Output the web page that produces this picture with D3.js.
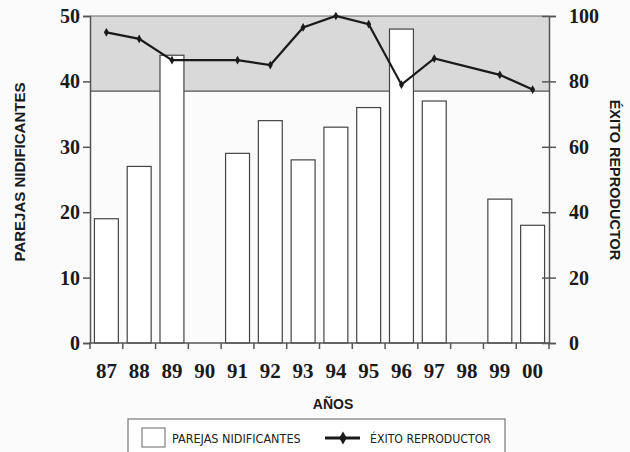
<!DOCTYPE html>
<html>
<head>
<meta charset="utf-8">
<script src="https://cdn.jsdelivr.net/npm/d3@7"></script>
<style>
  body { margin: 0; background: #fbfbfb; }
  svg { display: block; }
</style>
</head>
<body>
<script>
// datos
const anos = ["87", "88", "89", "90", "91", "92", "93", "94", "95", "96", "97", "98", "99", "00"];
const parejas = [19, 27, 44, null, 29, 34, 28, 33, 36, 48, 37, null, 22, 18];
const exito = [95, 93, 86.5, null, 86.5, 85, 96.5, 100, 97.5, 79, 87, null, 82, 77.5];
const ticksIzq = [0, 10, 20, 30, 40, 50];
const ticksDer = [0, 20, 40, 60, 80, 100];
const banda = 77; // limite inferior de la zona gris (escala derecha)

const W = 630, H = 452;
const m = { left: 90, right: 549, top: 16, bottom: 343 };

const svg = d3.select("body").append("svg").attr("width", W).attr("height", H);

const x = d3.scaleBand().domain(anos).range([m.left, m.right]).paddingInner(0.27).paddingOuter(0.135);
const xb = d3.scaleBand().domain(anos).range([m.left, m.right]);
const y = d3.scaleLinear().domain([0, 50]).range([m.bottom, m.top]);
const y2 = d3.scaleLinear().domain([0, 100]).range([m.bottom, m.top]);

// zona gris
svg.append("rect")
  .attr("x", m.left).attr("y", y2(100))
  .attr("width", m.right - m.left).attr("height", y2(banda) - y2(100))
  .attr("fill", "#d9d9d9");
svg.append("line")
  .attr("x1", m.left).attr("x2", m.right)
  .attr("y1", y2(banda)).attr("y2", y2(banda))
  .attr("stroke", "#555").attr("stroke-width", 1.2);
svg.append("line")
  .attr("x1", m.left).attr("x2", m.right)
  .attr("y1", m.top).attr("y2", m.top)
  .attr("stroke", "#666").attr("stroke-width", 1);

// barras
svg.selectAll("rect.barra").data(anos.map((a, i) => ({ a, v: parejas[i] })).filter(d => d.v != null))
  .enter().append("rect").attr("class", "barra")
  .attr("x", d => x(d.a)).attr("width", x.bandwidth())
  .attr("y", d => y(d.v)).attr("height", d => y(0) - y(d.v))
  .attr("fill", "#fff").attr("stroke", "#444").attr("stroke-width", 1.2);

// ejes
const ejeIzq = svg.append("g").attr("transform", `translate(${m.left},0)`)
  .call(d3.axisLeft(y).tickValues(ticksIzq).tickSize(7).tickPadding(3));
const ejeDer = svg.append("g").attr("transform", `translate(${m.right},0)`)
  .call(d3.axisRight(y2).tickValues(ticksDer).tickSize(7).tickPadding(13));
ejeDer.selectAll(".tick line").attr("x1", -7);
const ejeX = svg.append("g").attr("transform", `translate(0,${m.bottom})`)
  .call(d3.axisBottom(xb).tickSize(0).tickPadding(20));
// marcas entre categorias
ejeX.selectAll("line.sep").data(anos.slice(1)).enter().append("line").attr("class", "sep")
  .attr("x1", d => xb(d)).attr("x2", d => xb(d)).attr("y1", 0).attr("y2", 6);

[ejeIzq, ejeDer, ejeX].forEach(g => {
  g.select(".domain").attr("stroke", "#555").attr("stroke-width", 1.5);
  g.selectAll("line").attr("stroke", "#555").attr("stroke-width", 1.5);
  g.selectAll("text").attr("font-family", "Liberation Serif, serif").attr("font-weight", "bold")
    .attr("fill", "#1a1a1a");
});
ejeIzq.selectAll("text").attr("font-size", 20);
ejeDer.selectAll("text").attr("font-size", 20);
ejeX.selectAll("text").attr("font-size", 21);
ejeX.select(".domain").attr("d", `M${m.left},6V0H${m.right}V6`);

// linea de exito
const pts = anos.map((a, i) => ({ a, v: exito[i] })).filter(d => d.v != null);
svg.append("path").datum(pts)
  .attr("fill", "none").attr("stroke", "#1a1a1a").attr("stroke-width", 2.2)
  .attr("d", d3.line().x(d => xb(d.a) + xb.bandwidth() / 2).y(d => y2(d.v)));
svg.selectAll("path.punto").data(pts).enter().append("path").attr("class", "punto")
  .attr("transform", d => `translate(${xb(d.a) + xb.bandwidth() / 2},${y2(d.v)})`)
  .attr("d", d3.symbol(d3.symbolDiamond, 22))
  .attr("fill", "#1a1a1a");

// titulos
const sans = "Liberation Sans, Arial, sans-serif";
svg.append("text").text("PAREJAS NIDIFICANTES")
  .attr("transform", `translate(25,172) rotate(-90)`)
  .attr("text-anchor", "middle").attr("font-family", sans).attr("font-weight", "bold")
  .attr("font-size", 15).attr("fill", "#1a1a1a");
svg.append("text").text("ÉXITO REPRODUCTOR")
  .attr("transform", `translate(610,180) rotate(90)`)
  .attr("text-anchor", "middle").attr("font-family", sans).attr("font-weight", "bold")
  .attr("font-size", 14.5).attr("fill", "#1a1a1a");
svg.append("text").text("AÑOS")
  .attr("x", 333).attr("y", 409).attr("text-anchor", "middle")
  .attr("font-family", sans).attr("font-weight", "bold").attr("font-size", 14).attr("fill", "#1a1a1a");

// leyenda
const ley = svg.append("g");
const fLey = "DejaVu Sans Condensed, DejaVu Sans, sans-serif";
ley.append("rect").attr("x", 128).attr("y", 419).attr("width", 377).attr("height", 40)
  .attr("fill", "#fff").attr("stroke", "#777").attr("stroke-width", 1.2);
ley.append("rect").attr("x", 142).attr("y", 428).attr("width", 23).attr("height", 19)
  .attr("fill", "#fff").attr("stroke", "#666");
ley.append("text").text("PAREJAS NIDIFICANTES").attr("x", 172).attr("y", 443)
  .attr("font-family", fLey).attr("font-size", 12.5).attr("fill", "#222");
ley.append("line").attr("x1", 325).attr("x2", 360).attr("y1", 438).attr("y2", 438)
  .attr("stroke", "#1a1a1a").attr("stroke-width", 3);
ley.append("path").attr("transform", "translate(343,438)")
  .attr("d", d3.symbol(d3.symbolDiamond, 50)).attr("fill", "#1a1a1a");
ley.append("text").text("ÉXITO REPRODUCTOR").attr("x", 370).attr("y", 443)
  .attr("font-family", fLey).attr("font-size", 12.2).attr("fill", "#222");
</script>
</body>
</html>
